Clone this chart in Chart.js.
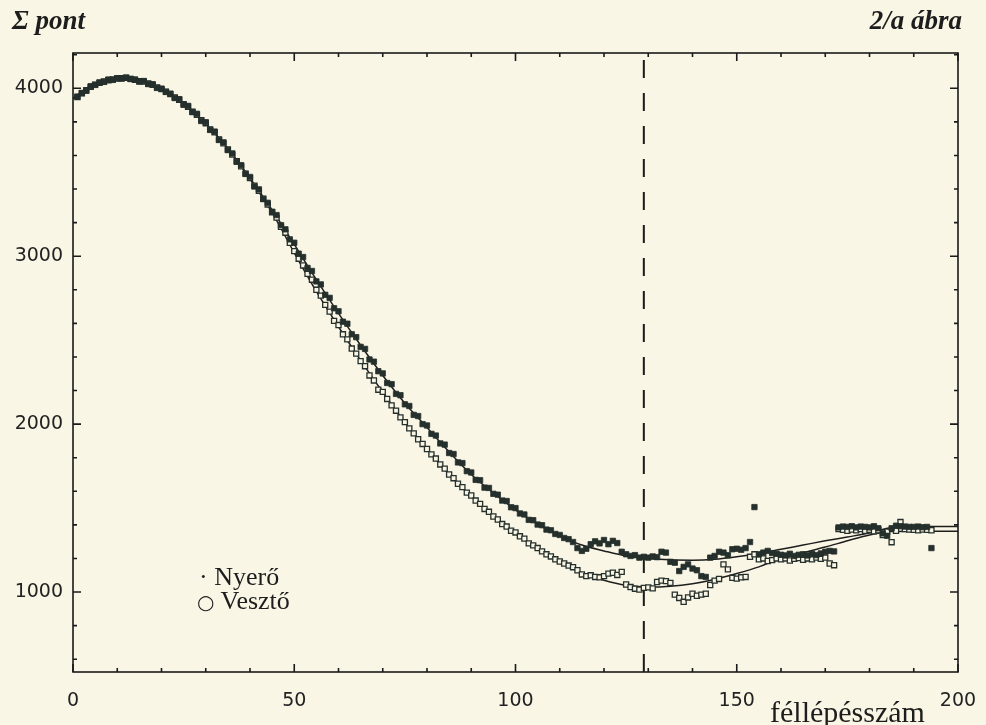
<!DOCTYPE html>
<html>
<head>
<meta charset="utf-8">
<script src="https://cdn.jsdelivr.net/npm/chart.js@4/dist/chart.umd.min.js"></script>
<style>
  html, body { margin: 0; padding: 0; background: #faf6e6; }
  #wrap { position: relative; width: 986px; height: 725px; overflow: hidden; }
  #my-chart { position: absolute; left: 0; top: 0; }
  .lbl { position: absolute; color: #1d1d1d; font-family: "Liberation Serif", "DejaVu Serif", serif; line-height: 1; white-space: nowrap; }
  .head { font-weight: bold; font-style: italic; font-size: 27px; top: 7px; }
</style>
</head>
<body>
<div id="wrap">
  <canvas id="my-chart" width="986" height="725"></canvas>
  <div class="lbl head" style="left:12px;">Σ pont</div>
  <div class="lbl head" style="right:24px;">2/a ábra</div>
  <div class="lbl" style="left:770px; top:697px; font-size:30px;">féllépésszám</div>
  <div class="lbl" style="left:199px; top:564px; font-size:26px;">· Nyerő</div>
  <div class="lbl" style="left:197px; top:588px; font-size:26px;"><span style="font-family:'DejaVu Sans';font-size:20px;">○</span> Vesztő</div>
</div>
<script>
'use strict';

//axis ticks
const xTicks = [0, 50, 100, 150, 200];
const yTicks = [1000, 2000, 3000, 4000];
const yMin = 524;
const yMax = 4210;
//dashed marker
const markerX = 129;

//smoothed curves, one value every 5 steps
const fitX = [0, 5, 10, 15, 20, 25, 30, 35, 40, 45, 50, 55, 60, 65, 70, 75, 80, 85, 90, 95,
  100, 105, 110, 115, 120, 125, 130, 135, 140, 145, 150, 155, 160, 165, 170, 175, 180, 185, 190, 195, 200];
const fitNyero = [3940, 4030, 4058, 4045, 3995, 3910, 3790, 3640, 3465, 3275, 3070, 2860, 2660, 2470, 2290, 2125, 1980, 1835, 1700, 1590,
  1490, 1405, 1335, 1280, 1245, 1215, 1200, 1192, 1190, 1195, 1210, 1230, 1255, 1280, 1305, 1328, 1352, 1385, 1390, 1390, 1390];
const fitVeszto = [3940, 4030, 4058, 4045, 3995, 3910, 3790, 3640, 3460, 3260, 3020, 2790, 2580, 2380, 2190, 2010, 1850, 1700, 1570, 1450,
  1350, 1260, 1180, 1115, 1070, 1040, 1030, 1035, 1050, 1075, 1110, 1150, 1200, 1235, 1268, 1305, 1340, 1360, 1362, 1362, 1362];

//points, one per step starting at step 1
const firstStep = 1;
const nyero = [
  3950, 3972, 3985, 4012, 4020, 4035, 4038, 4052, 4050,
  4060, 4058, 4064, 4055, 4052, 4040, 4043, 4025, 4024, 4002,
  3998, 3978, 3968, 3942, 3935, 3902, 3895, 3858, 3848, 3805,
  3798, 3752, 3742, 3692, 3678, 3632, 3612, 3562, 3542, 3490,
  3472, 3415, 3398, 3340, 3318, 3265, 3245, 3185, 3160, 3100,
  3080, 3015, 2995, 2930, 2912, 2850, 2832, 2770, 2752, 2690,
  2672, 2610, 2598, 2535, 2518, 2460, 2448, 2385, 2372, 2315,
  2302, 2245, 2238, 2180, 2172, 2118, 2108, 2055, 2048, 2000,
  1992, 1942, 1932, 1885, 1878, 1828, 1822, 1772, 1768, 1720,
  1712, 1668, 1666, 1622, 1620, 1585, 1580, 1545, 1542, 1505,
  1500, 1468, 1462, 1430, 1428, 1402, 1398, 1372, 1368, 1346,
  1340, 1322, 1315, 1298, 1262, 1245, 1258, 1285, 1302, 1290,
  1310, 1285, 1305, 1292, 1240, 1225, 1215, 1220, 1205, 1210,
  1205, 1212, 1208, 1240, 1235, 1180, 1175, 1125, 1150, 1165,
  1140, 1130, 1095, 1090, 1205, 1215, 1240, 1235, 1220, 1255,
  1258, 1252, 1262, 1298, 1506, 1225, 1235, 1245, 1232, 1228,
  1222, 1218, 1228, 1215, 1222, 1225, 1218, 1228, 1220, 1230,
  1240, 1245, 1242, 1385, 1390, 1388, 1392, 1385, 1390, 1388,
  1385, 1392, 1380, 1350, 1335, 1380, 1395, 1392, 1390, 1388,
  1388, 1390, 1386, 1388, 1262
];
const veszto = [
  3948, 3970, 3988, 4008, 4022, 4032, 4040, 4048, 4053,
  4058, 4060, 4062, 4056, 4050, 4042, 4040, 4028, 4020, 4005,
  3995, 3980, 3965, 3945, 3932, 3905, 3890, 3860, 3842, 3810,
  3792, 3755, 3738, 3695, 3672, 3635, 3605, 3565, 3535, 3492,
  3465, 3420, 3390, 3342, 3308, 3262, 3230, 3175, 3140, 3080,
  3030, 2985, 2945, 2895, 2860, 2800, 2765, 2710, 2670, 2615,
  2590, 2535, 2505, 2450, 2420, 2375, 2345, 2290, 2260, 2205,
  2192, 2150, 2112, 2080, 2040, 2012, 1975, 1945, 1910, 1882,
  1852, 1820, 1795, 1760, 1735, 1700, 1678, 1645, 1625, 1592,
  1575, 1545, 1525, 1495, 1478, 1450, 1432, 1405, 1390, 1365,
  1355, 1332, 1318, 1290, 1278, 1262, 1242, 1225, 1212, 1195,
  1182, 1170, 1158, 1148, 1130, 1105, 1095, 1100, 1090, 1088,
  1095, 1110, 1115, 1102, 1120, 1045, 1030, 1020, 1015, 1025,
  1028, 1022, 1060, 1068, 1065, 1055, 985, 965, 942, 968,
  990, 978, 985, 990, 1042, 1068, 1078, 1165, 1135, 1085,
  1080, 1088, 1090, 1210, 1225, 1195, 1200, 1185, 1190, 1200,
  1195, 1200, 1188, 1198, 1202, 1192, 1200, 1195, 1205, 1198,
  1205, 1170, 1160, 1375, 1370, 1365, 1372, 1368, 1375, 1365,
  1370, 1362, 1368, 1340, 1360, 1297, 1365, 1417, 1375, 1372,
  1370, 1368, 1372, 1370, 1368
];

const ink = '#25302c';
const paper = '#faf6e6';

function toPoints(xs, ys) {
  return ys.map((v, i) => ({x: xs ? xs[i] : firstStep + i, y: v}));
}

//inward ticks and frame, like the printed plot
const frameTicks = {
  id: 'frameTicks',
  afterDraw(chart) {
    const {ctx, chartArea: a, scales} = chart;
    const x = scales.x;
    const y = scales.y;
    ctx.save();
    ctx.strokeStyle = '#1a1a1a';
    ctx.lineWidth = 1.6;
    ctx.strokeRect(a.left, a.top, a.right - a.left, a.bottom - a.top);
    ctx.beginPath();
    for (let v = 0; v <= 200; v += 10) {
      let px = x.getPixelForValue(v);
      let len = xTicks.includes(v) ? 8 : 4;
      ctx.moveTo(px, a.bottom); ctx.lineTo(px, a.bottom - len);
      ctx.moveTo(px, a.top); ctx.lineTo(px, a.top + len);
    }
    for (let v = 600; v <= 4200; v += 200) {
      let py = y.getPixelForValue(v);
      let len = yTicks.includes(v) ? 8 : 4;
      ctx.moveTo(a.left, py); ctx.lineTo(a.left + len, py);
      ctx.moveTo(a.right, py); ctx.lineTo(a.right - len, py);
    }
    ctx.stroke();
    ctx.restore();
  }
};

const ctx = document.getElementById('my-chart').getContext('2d');
const myChart = new Chart(ctx, {
  type: 'scatter',
  data: {
    datasets: [{
      label: 'Nyerő',
      data: toPoints(null, nyero),
      pointStyle: 'rect',
      pointRadius: 3.8,
      backgroundColor: ink,
      borderColor: ink,
      borderWidth: 0.8,
      order: 0
    },
    {
      label: 'Vesztő',
      data: toPoints(null, veszto),
      pointStyle: 'rect',
      pointRadius: 3.6,
      backgroundColor: paper,
      borderColor: ink,
      borderWidth: 1.3,
      order: 1
    },
    {
      type: 'line',
      label: 'Nyerő fit',
      data: toPoints(fitX, fitNyero),
      borderColor: '#1e1e1e',
      borderWidth: 1.5,
      pointRadius: 0,
      cubicInterpolationMode: 'monotone',
      fill: false,
      order: 2
    },
    {
      type: 'line',
      label: 'Vesztő fit',
      data: toPoints(fitX, fitVeszto),
      borderColor: '#1e1e1e',
      borderWidth: 1.5,
      pointRadius: 0,
      cubicInterpolationMode: 'monotone',
      fill: false,
      order: 2
    },
    {
      type: 'line',
      label: 'marker',
      data: [{x: markerX, y: yMin}, {x: markerX, y: yMax}],
      borderColor: '#1a1a1a',
      borderWidth: 2,
      borderDash: [18, 15],
      pointRadius: 0,
      fill: false,
      order: 3
    }]
  },
  options: {
    responsive: false,
    animation: false,
    devicePixelRatio: 1,
    layout: {
      padding: {top: 53, right: 28, left: 0, bottom: 0}
    },
    plugins: {
      legend: {display: false},
      tooltip: {enabled: false}
    },
    scales: {
      x: {
        type: 'linear',
        min: 0,
        max: 200,
        grid: {display: false, drawTicks: false},
        border: {display: false},
        afterBuildTicks: (scale) => { scale.ticks = xTicks.map(v => ({value: v})); },
        afterFit: (scale) => {
          scale.height = 53;
          scale.paddingLeft = 0;
          scale.paddingRight = 0;
        },
        ticks: {
          color: '#222',
          padding: 18,
          maxRotation: 0,
          callback: (v) => String(v),
          font: {family: 'DejaVu Sans', size: 19}
        }
      },
      y: {
        type: 'linear',
        min: yMin,
        max: yMax,
        grid: {display: false, drawTicks: false},
        border: {display: false},
        afterBuildTicks: (scale) => { scale.ticks = yTicks.map(v => ({value: v})); },
        afterFit: (scale) => {
          scale.width = 73;
          scale.paddingTop = 0;
          scale.paddingBottom = 0;
        },
        ticks: {
          color: '#222',
          padding: 10,
          callback: (v) => String(v),
          font: {family: 'DejaVu Sans', size: 19}
        }
      }
    }
  },
  plugins: [frameTicks]
});
</script>
</body>
</html>
